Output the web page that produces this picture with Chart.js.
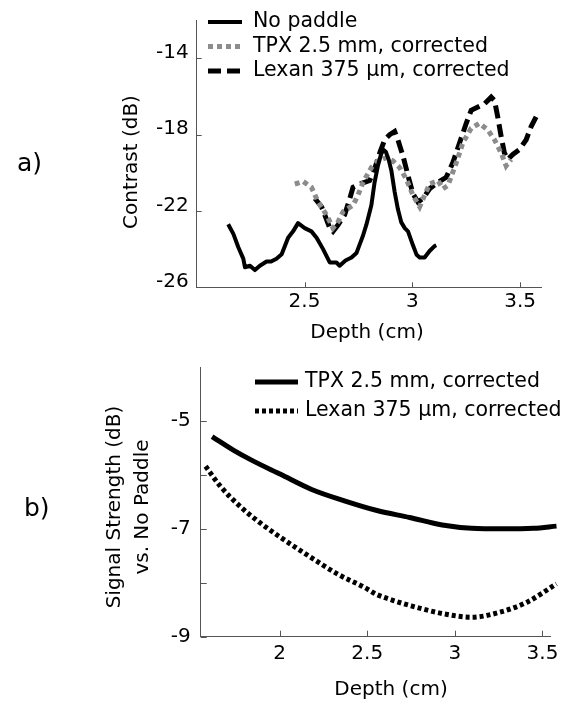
<!DOCTYPE html>
<html>
<head>
<meta charset="utf-8">
<script src="https://cdn.jsdelivr.net/npm/chart.js@4.4.0/dist/chart.umd.min.js"></script>
<style>
  html, body { margin: 0; padding: 0; background: #fff; }
  #page { position: relative; width: 578px; height: 711px; font-family: "DejaVu Sans", sans-serif; }
  .box { position: absolute; left: 0; width: 578px; }
  .tag { position: absolute; font-size: 25px; line-height: 1; color: #000; }
</style>
</head>
<body>
<div id="page">
  <div class="box" style="top:0;height:345px"><canvas id="chartA"></canvas></div>
  <div class="box" style="top:345px;height:366px"><canvas id="chartB"></canvas></div>
  <div class="tag" style="left:17px;top:150px">a)</div>
  <div class="tag" style="left:24px;top:495px">b)</div>
</div>
<script>
// --- panel a) contrast vs depth ---
const depthTicksA = [2.5, 3, 3.5];
const contrastTicks = [-26, -22, -18, -14];

const noPaddleX = [2.146, 2.17, 2.193, 2.216, 2.224, 2.247, 2.27, 2.293, 2.324, 2.345, 2.37, 2.394, 2.424, 2.447, 2.47,
  2.501, 2.532, 2.556, 2.586, 2.617, 2.648, 2.663, 2.69, 2.718, 2.741, 2.756, 2.771, 2.787, 2.81, 2.825, 2.841,
  2.856, 2.866, 2.877, 2.89, 2.903, 2.918, 2.933, 2.949, 2.965, 2.98, 3.003, 3.02, 3.034, 3.057, 3.08, 3.103, 3.111];
const noPaddleY = [-22.7, -23.2, -23.9, -24.5, -24.95, -24.87, -25.1, -24.87, -24.65, -24.65, -24.5, -24.27, -23.4, -23.07, -22.64,
  -22.9, -23.07, -23.4, -24.0, -24.7, -24.7, -24.87, -24.6, -24.44, -24.2, -23.75, -23.3, -22.72, -21.7, -20.5, -19.6,
  -19.0, -18.8, -18.9, -19.3, -19.9, -21.0, -21.9, -22.6, -22.9, -23.07, -23.8, -24.3, -24.44, -24.44, -24.1, -23.84, -23.8];

const tpxAX = [2.455, 2.494, 2.532, 2.563, 2.602, 2.632, 2.656, 2.679, 2.725, 2.748, 2.771, 2.81, 2.841, 2.88, 2.91,
  2.941, 2.972, 3.003, 3.034, 3.057, 3.08, 3.119, 3.142, 3.165, 3.204, 3.234, 3.273, 3.311, 3.35, 3.381, 3.412, 3.435, 3.458];
const tpxAY = [-20.59, -20.46, -20.76, -21.53, -22.21, -22.9, -22.56, -22.04, -21.7, -21.18, -20.5, -19.73, -19.38, -19.21, -19.38,
  -19.73, -20.33, -21.18, -21.78, -21.18, -20.59, -20.41, -20.84, -20.67, -19.47, -18.44, -17.67, -17.41, -17.76, -18.27, -18.96, -19.64, -19.3];

const lexanAX = [2.548, 2.579, 2.594, 2.617, 2.632, 2.656, 2.686, 2.71, 2.725, 2.756, 2.802, 2.825, 2.849, 2.872, 2.895,
  2.918, 2.933, 2.957, 2.98, 3.003, 3.026, 3.049, 3.08, 3.119, 3.157, 3.188, 3.219, 3.25, 3.273, 3.304, 3.335, 3.366,
  3.381, 3.396, 3.412, 3.427, 3.443, 3.466, 3.497, 3.528, 3.551, 3.574];
const lexanAY = [-21.35, -21.78, -22.21, -22.9, -23.07, -22.72, -22.21, -21.35, -20.76, -20.59, -20.41, -19.81, -18.96, -18.27, -18.01,
  -17.84, -18.27, -19.13, -20.15, -21.1, -21.53, -21.35, -20.84, -20.5, -20.24, -19.47, -18.44, -17.41, -16.73, -16.56, -16.39, -16.04,
  -16.21, -17.07, -18.1, -18.96, -19.3, -19.04, -18.78, -18.27, -17.58, -17.07];

// --- panel b) signal strength vs depth ---
const depthTicksB = [2, 2.5, 3, 3.5];
const signalTicks = [-9, -8, -7, -6, -5];
const signalLabels = [-9, -7, -5];

const tpxBX = [1.615, 1.736, 1.848, 2.006, 2.183, 2.37, 2.556, 2.742, 2.928, 3.096, 3.27, 3.449, 3.58];
const tpxBY = [-5.29, -5.54, -5.74, -5.99, -6.27, -6.48, -6.66, -6.79, -6.93, -6.99, -7.0, -6.99, -6.95];

const lexanBX = [1.578, 1.662, 1.773, 1.885, 2.006, 2.165, 2.332, 2.481, 2.556, 2.65, 2.742, 2.928, 3.096, 3.263, 3.412, 3.58];
const lexanBY = [-5.84, -6.21, -6.58, -6.88, -7.16, -7.5, -7.84, -8.08, -8.22, -8.33, -8.42, -8.57, -8.64, -8.54, -8.36, -8.02];

const FONT = '"DejaVu Sans", sans-serif';
const pts = (xs, ys) => xs.map((x, i) => ({ x: x, y: ys[i] }));

// tick marks pointing into the plot, like the original figure
const inwardTicks = {
  id: 'inwardTicks',
  afterDraw(chart, args, opts) {
    const { ctx, chartArea } = chart;
    const xs = chart.scales.x, ys = chart.scales.y;
    ctx.save();
    ctx.strokeStyle = opts.color;
    ctx.lineWidth = 1;
    ctx.beginPath();
    xs.ticks.forEach(t => {
      const px = Math.round(xs.getPixelForValue(t.value)) + 0.5;
      ctx.moveTo(px, chartArea.bottom);
      ctx.lineTo(px, chartArea.bottom - opts.length);
    });
    ys.ticks.forEach(t => {
      const py = Math.round(ys.getPixelForValue(t.value)) + 0.5;
      ctx.moveTo(chartArea.left, py);
      ctx.lineTo(chartArea.left + opts.length, py);
    });
    ctx.stroke();
    ctx.restore();
  }
};

// legend drawn inside the plot with the real line styles
const lineLegend = {
  id: 'lineLegend',
  afterDraw(chart, args, o) {
    const ctx = chart.ctx;
    ctx.save();
    ctx.font = '20.5px ' + FONT;
    ctx.textBaseline = 'middle';
    chart.data.datasets.forEach((ds, i) => {
      const y = o.top + i * o.rowHeight;
      ctx.strokeStyle = ds.borderColor;
      ctx.lineWidth = ds.borderWidth;
      ctx.setLineDash(ds.borderDash || []);
      ctx.beginPath();
      ctx.moveTo(o.lineStart, y);
      ctx.lineTo(o.lineEnd, y);
      ctx.stroke();
      ctx.setLineDash([]);
      ctx.fillStyle = '#000';
      ctx.fillText(ds.label, o.textStart, y);
    });
    ctx.restore();
  }
};

// axis titles placed where the figure has them
const axisTitles = {
  id: 'axisTitles',
  afterDraw(chart, args, o) {
    const ctx = chart.ctx;
    ctx.save();
    ctx.font = '20px ' + FONT;
    ctx.fillStyle = '#000';
    ctx.textAlign = 'center';
    ctx.textBaseline = 'middle';
    ctx.fillText(o.xText, o.xPos[0], o.xPos[1]);
    ctx.translate(o.yPos[0], o.yPos[1]);
    ctx.rotate(-Math.PI / 2);
    o.yText.forEach((line, i) => ctx.fillText(line, 0, i * o.yLineHeight));
    ctx.restore();
  }
};

function axes(opt) {
  return {
    x: {
      type: 'linear', min: opt.xMin, max: opt.xMax,
      afterBuildTicks: s => { s.ticks = opt.xTicks.map(v => ({ value: v })); },
      afterFit: s => { s.height = opt.xHeight; },
      grid: { display: false, drawTicks: false },
      border: { display: true, color: '#555', width: 1 },
      ticks: { color: '#000', padding: opt.xPad, maxRotation: 0, autoSkip: false,
        font: { family: FONT, size: 20 }, callback: v => String(v) }
    },
    y: {
      type: 'linear', min: opt.yMin, max: opt.yMax,
      afterBuildTicks: s => { s.ticks = opt.yTicks.map(v => ({ value: v })); },
      afterFit: s => { s.width = opt.yWidth; },
      grid: { display: false, drawTicks: false },
      border: { display: true, color: '#555', width: 1 },
      ticks: { color: '#000', padding: opt.yPad, labelOffset: opt.yLabelOffset, autoSkip: false,
        font: { family: FONT, size: 20 }, callback: opt.yLabel }
    }
  };
}

new Chart(document.getElementById('chartA'), {
  type: 'line',
  data: {
    datasets: [
      { label: 'No paddle', data: pts(noPaddleX, noPaddleY), borderColor: '#000', borderWidth: 4,
        borderJoinStyle: 'round', pointRadius: 0, tension: 0 },
      { label: 'TPX 2.5 mm, corrected', data: pts(tpxAX, tpxAY), borderColor: '#8c8c8c', borderWidth: 5,
        borderDash: [5, 4], pointRadius: 0, tension: 0 },
      { label: 'Lexan 375 \u03bcm, corrected', data: pts(lexanAX, lexanAY), borderColor: '#000', borderWidth: 5,
        borderDash: [13, 6], pointRadius: 0, tension: 0 }
    ]
  },
  options: {
    responsive: true, maintainAspectRatio: false, animation: false, events: [],
    layout: { padding: { top: 15.4, right: 36.3, bottom: 0, left: 0 } },
    scales: axes({ xMin: 2.0, xMax: 3.6, xTicks: depthTicksA, xHeight: 57.7, xPad: 2,
      yMin: -26, yMax: -12, yTicks: contrastTicks, yWidth: 196.7, yPad: 8, yLabelOffset: -5.5,
      yLabel: v => String(v) }),
    plugins: {
      legend: { display: false }, tooltip: { enabled: false },
      inwardTicks: { color: '#555', length: 5 },
      lineLegend: { lineStart: 208, lineEnd: 242, textStart: 253, top: 22, rowHeight: 24.5 },
      axisTitles: { xText: 'Depth (cm)', xPos: [367, 333], yText: ['Contrast (dB)'], yPos: [132, 162], yLineHeight: 28 }
    }
  },
  plugins: [inwardTicks, lineLegend, axisTitles]
});

new Chart(document.getElementById('chartB'), {
  type: 'line',
  data: {
    datasets: [
      { label: 'TPX 2.5 mm, corrected', data: pts(tpxBX, tpxBY), borderColor: '#000', borderWidth: 5,
        pointRadius: 0, cubicInterpolationMode: 'monotone', clip: false },
      { label: 'Lexan 375 \u03bcm, corrected', data: pts(lexanBX, lexanBY), borderColor: '#000', borderWidth: 5,
        borderDash: [4, 3], pointRadius: 0, cubicInterpolationMode: 'monotone', clip: false }
    ]
  },
  options: {
    responsive: true, maintainAspectRatio: false, animation: false, events: [],
    layout: { padding: { top: 18, right: 27.3, bottom: 0, left: 0 } },
    scales: axes({ xMin: 1.55, xMax: 3.547, xTicks: depthTicksB, xHeight: 74.3, xPad: 5,
      yMin: -9, yMax: -4, yTicks: signalTicks, yWidth: 200.7, yPad: 10, yLabelOffset: 0,
      yLabel: v => signalLabels.includes(v) ? String(v) : '' }),
    plugins: {
      legend: { display: false }, tooltip: { enabled: false },
      inwardTicks: { color: '#555', length: 6 },
      lineLegend: { lineStart: 255, lineEnd: 298, textStart: 305, top: 37, rowHeight: 29 },
      axisTitles: { xText: 'Depth (cm)', xPos: [391, 345], yText: ['Signal Strength (dB)', 'vs. No Paddle'],
        yPos: [115, 162], yLineHeight: 28 }
    }
  },
  plugins: [inwardTicks, lineLegend, axisTitles]
});
</script>
</body>
</html>
